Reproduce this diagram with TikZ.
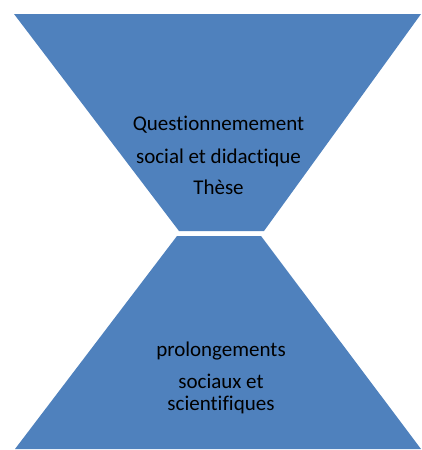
\documentclass[tikz,border=0pt]{standalone}
\usepackage{fontspec}
\setmainfont{Carlito}[Ligatures={NoCommon,NoContextual}]
\definecolor{shapeblue}{HTML}{4F81BD}
\tikzset{
  funnel/.style={fill=shapeblue, draw=none},
  label/.style={anchor=base, inner sep=0pt, font=\fontsize{21}{25}\selectfont, text=black}
}
\begin{document}
\begin{tikzpicture}[x=1pt,y=-1pt]
\useasboundingbox (0,0) rectangle (421,450);
% top funnel
\fill[funnel] (14,14) -- (421,14) -- (264,231) -- (179,231) -- cycle;
% bottom funnel
\fill[funnel] (177,236) -- (261,236) -- (421,449) -- (15,449) -- cycle;
% texts
\node[label] (t1) at (218.5,130) {Questionnemement};
\node[label] (t2) at (218.5,163) {social et didactique};
\node[label] (t3) at (218.5,194) {Thèse};
\node[label] (b1) at (221,356) {prolongements};
\node[label] (b2) at (221,388) {sociaux et};
\node[label] (b3) at (221,410) {scientifiques};
\end{tikzpicture}
\end{document}
